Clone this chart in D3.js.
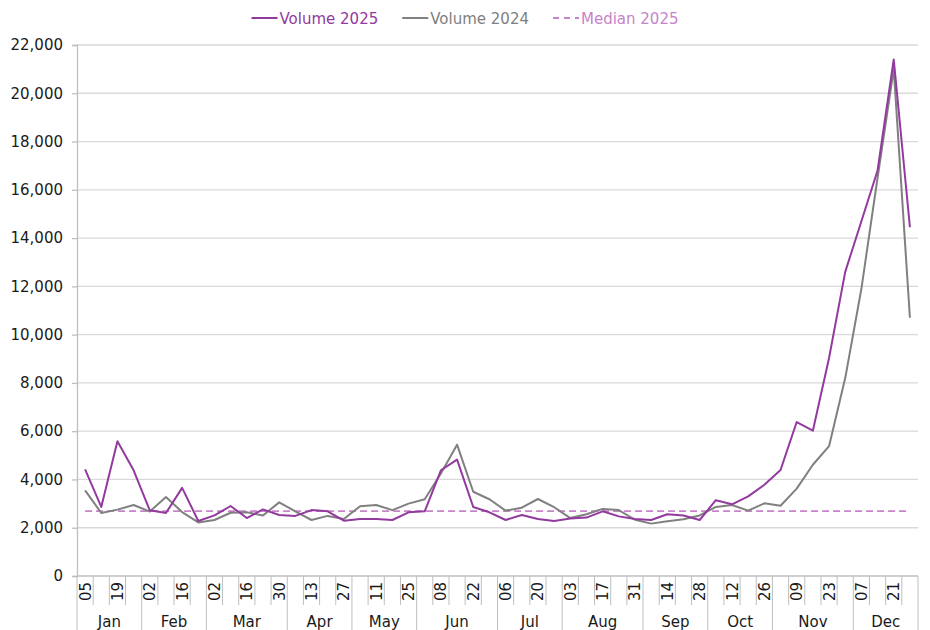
<!DOCTYPE html>
<html>
<head>
<meta charset="utf-8">
<script src="https://cdn.jsdelivr.net/npm/d3@7"></script>
<style>
  body { margin: 0; background: #fff; }
  svg { font-family: "DejaVu Sans", Verdana, sans-serif; }
</style>
</head>
<body>
<div id="chart"></div>
<script>
const months = ['Jan', 'Feb', 'Mar', 'Apr', 'May', 'Jun', 'Jul', 'Aug', 'Sep', 'Oct', 'Nov', 'Dec']
const weekDays = [
  [5, 12, 19, 26], [2, 9, 16, 23], [2, 9, 16, 23, 30], [6, 13, 20, 27],
  [4, 11, 18, 25], [1, 8, 15, 22, 29], [6, 13, 20, 27], [3, 10, 17, 24, 31],
  [7, 14, 21, 28], [5, 12, 19, 26], [2, 9, 16, 23, 30], [7, 14, 21, 28]
]
const volume2025 = [
  4420, 2860, 5580, 4380, 2720, 2610, 3650, 2280, 2510, 2900,
  2400, 2760, 2530, 2490, 2730, 2680, 2290, 2360, 2360, 2320,
  2640, 2680, 4380, 4820, 2860, 2640, 2320, 2530, 2360, 2280,
  2380, 2420, 2680, 2470, 2360, 2320, 2560, 2510, 2320, 3140,
  2970, 3300, 3780, 4390, 6380, 6020, 9030, 12600, 14700, 16800,
  21400, 14450
]
const volume2024 = [
  3550, 2610, 2750, 2940, 2670, 3270, 2650, 2220, 2320, 2620,
  2640, 2510, 3050, 2680, 2320, 2490, 2360, 2890, 2940, 2730,
  3000, 3180, 4250, 5440, 3490, 3180, 2710, 2830, 3190, 2850,
  2400, 2560, 2780, 2730, 2330, 2170, 2270, 2350, 2510, 2860,
  2940, 2710, 3010, 2910, 3620, 4610, 5380, 8200, 11900, 16500,
  21000, 10700
]
const median2025 = 2690
const yTicks = [0, 2000, 4000, 6000, 8000, 10000, 12000, 14000, 16000, 18000, 20000, 22000]

const WIDTH = 930
const HEIGHT = 630
const LEFT = 77
const RIGHT = 918
const TOP = 45
const BOTTOM = 576
const PURPLE = '#923a9e'
const GREY = '#808080'
const MEDIAN_COLOR = '#c684c9'
const GRID = '#d9d9d9'
const AXIS = '#bfbfbf'

// flatten weeks into categories
const weeks = []
months.forEach((m, mi) => weekDays[mi].forEach(d => weeks.push({ month: m, day: d })))

const svg = d3.select('#chart').append('svg')
  .attr('width', WIDTH)
  .attr('height', HEIGHT)

const x = d3.scaleBand()
  .domain(d3.range(weeks.length))
  .range([LEFT, RIGHT])
  .padding(0)
const xc = i => x(i) + x.bandwidth() / 2

const y = d3.scaleLinear()
  .domain([0, 22000])
  .range([BOTTOM, TOP])

// gridlines
svg.append('g')
  .selectAll('line')
  .data(yTicks.filter(t => t > 0))
  .enter()
    .append('line')
    .attr('x1', LEFT)
    .attr('x2', RIGHT)
    .attr('y1', d => y(d))
    .attr('y2', d => y(d))
    .attr('stroke', GRID)
    .attr('stroke-width', 1.3)

// y axis
const yAxis = svg.append('g')
  .attr('transform', `translate(${LEFT},0)`)
  .call(d3.axisLeft(y).tickValues(yTicks).tickSize(5).tickPadding(9).tickFormat(d3.format(',')))
yAxis.select('.domain').attr('stroke', AXIS).attr('stroke-width', 1.3)
yAxis.selectAll('.tick line').attr('stroke', AXIS).attr('stroke-width', 1.3)
yAxis.selectAll('text')
  .attr('font-size', 15)
  .attr('fill', '#1a1a1a')
  .attr('font-family', '"DejaVu Sans", Verdana, sans-serif')

// x axis baseline
svg.append('line')
  .attr('x1', LEFT)
  .attr('x2', RIGHT)
  .attr('y1', BOTTOM)
  .attr('y2', BOTTOM)
  .attr('stroke', AXIS)
  .attr('stroke-width', 1.3)

// category separators
svg.append('g')
  .selectAll('line')
  .data(d3.range(weeks.length + 1))
  .enter()
    .append('line')
    .attr('x1', i => i < weeks.length ? x(i) : RIGHT)
    .attr('x2', i => i < weeks.length ? x(i) : RIGHT)
    .attr('y1', BOTTOM)
    .attr('y2', i => (i === 0 || i === weeks.length || weeks[i].month !== weeks[i - 1].month) ? HEIGHT : 605)
    .attr('stroke', AXIS)
    .attr('stroke-width', 1)

// date labels (every other week)
svg.append('g')
  .selectAll('text')
  .data(weeks.map((w, i) => ({ ...w, i })).filter(w => w.i % 2 === 0))
  .enter()
    .append('text')
    .attr('transform', d => `translate(${xc(d.i) + 5.5},${582}) rotate(-90)`)
    .attr('text-anchor', 'end')
    .attr('font-size', 15)
    .attr('fill', '#1a1a1a')
    .text(d => d3.format('02')(d.day))

// month labels
let start = 0
const monthSpans = months.map((m, mi) => {
  const span = { month: m, from: start, to: start + weekDays[mi].length }
  start = span.to
  return span
})
svg.append('g')
  .selectAll('text')
  .data(monthSpans)
  .enter()
    .append('text')
    .attr('x', d => (x(d.from) + (d.to < weeks.length ? x(d.to) : RIGHT)) / 2)
    .attr('y', 627)
    .attr('text-anchor', 'middle')
    .attr('font-size', 15)
    .attr('fill', '#1a1a1a')
    .text(d => d.month)

// series
const line = d3.line()
  .x((d, i) => xc(i))
  .y(d => y(d))

svg.append('path')
  .datum(weeks.map(() => median2025))
  .attr('d', line)
  .attr('fill', 'none')
  .attr('stroke', MEDIAN_COLOR)
  .attr('stroke-width', 1.8)
  .attr('stroke-dasharray', '7,4')

svg.append('path')
  .datum(volume2024)
  .attr('d', line)
  .attr('fill', 'none')
  .attr('stroke', GREY)
  .attr('stroke-width', 2)
  .attr('stroke-linejoin', 'round')

svg.append('path')
  .datum(volume2025)
  .attr('d', line)
  .attr('fill', 'none')
  .attr('stroke', PURPLE)
  .attr('stroke-width', 2)
  .attr('stroke-linejoin', 'round')

// legend
const legendItems = [
  { label: 'Volume 2025', color: PURPLE, textColor: PURPLE, dash: null },
  { label: 'Volume 2024', color: GREY, textColor: GREY, dash: null },
  { label: 'Median 2025', color: MEDIAN_COLOR, textColor: MEDIAN_COLOR, dash: '6,5' }
]
const legend = svg.append('g').attr('class', 'legend')
const LINE_W = 26
const GAP = 24
let lx = 0
legendItems.forEach(item => {
  const g = legend.append('g').attr('transform', `translate(${lx},0)`)
  g.append('line')
    .attr('x1', 0)
    .attr('x2', LINE_W)
    .attr('y1', 18)
    .attr('y2', 18)
    .attr('stroke', item.color)
    .attr('stroke-width', 2)
    .attr('stroke-dasharray', item.dash)
  const t = g.append('text')
    .attr('x', LINE_W + 2)
    .attr('y', 23.5)
    .attr('font-size', 15)
    .attr('fill', item.textColor)
    .text(item.label)
  lx += LINE_W + 2 + t.node().getComputedTextLength() + GAP
})
const legendWidth = lx - GAP
legend.attr('transform', `translate(${465 - legendWidth / 2},0)`)
</script>
</body>
</html>
